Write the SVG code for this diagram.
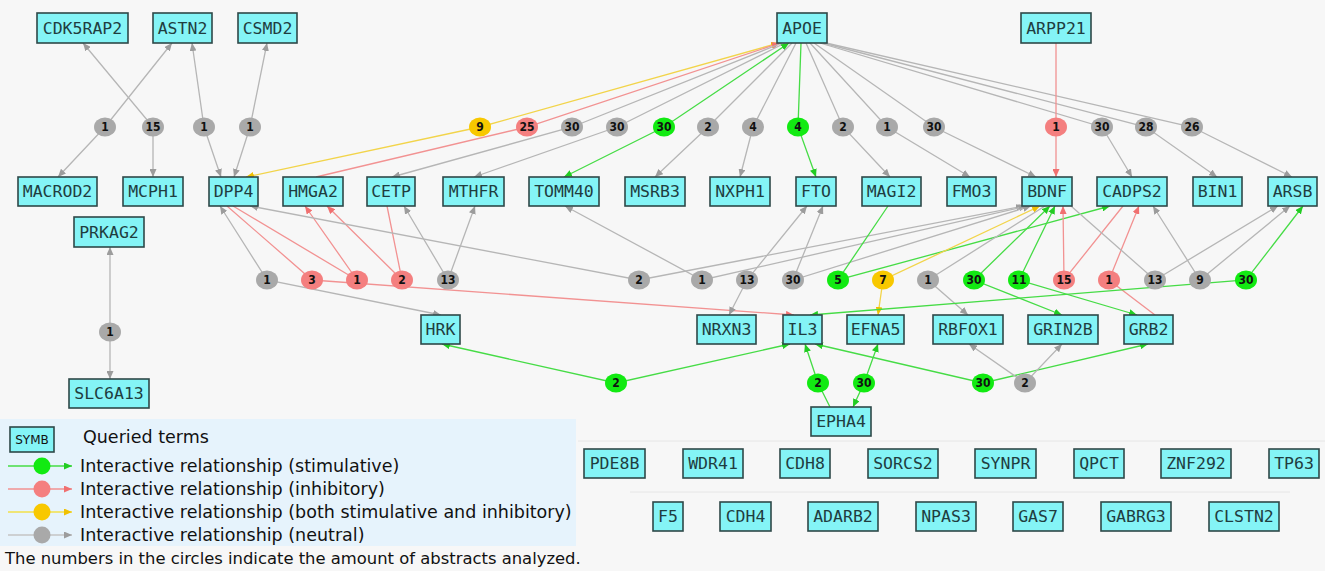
<svg xmlns="http://www.w3.org/2000/svg" width="1325" height="571" viewBox="0 0 1325 571">
<style>
.bg{fill:#f7f7f7}
.n rect{fill:#84f4f6;stroke:#2e4848;stroke-width:1.6}
.n text{font-family:"DejaVu Sans Mono",monospace;font-size:16.5px;fill:#1f3d3f;text-anchor:middle}
.e path{fill:none;stroke-width:1.3}
.g{stroke:#b6b6b6}.G{stroke:#46dc46}.r{stroke:#f29292}.y{stroke:#f2d44a}
.lb ellipse{stroke:none}
.cg{fill:#a9a9a9}.cG{fill:#12ea12}.cr{fill:#f47f7f}.cy{fill:#f8c800}
.lb text{font-family:"DejaVu Sans Condensed","DejaVu Sans",sans-serif;font-weight:bold;font-size:12px;fill:#111;text-anchor:middle}
.lg text{font-family:"DejaVu Sans",Verdana,sans-serif;font-size:17.5px;fill:#111}
</style>
<defs>
<marker id="ag" viewBox="0 0 8 7" refX="8" refY="3.5" markerWidth="8" markerHeight="7" markerUnits="userSpaceOnUse" orient="auto-start-reverse"><path d="M0,0L8,3.5L0,7z" fill="#9c9c9c"/></marker>
<marker id="aG" viewBox="0 0 8 7" refX="8" refY="3.5" markerWidth="8" markerHeight="7" markerUnits="userSpaceOnUse" orient="auto-start-reverse"><path d="M0,0L8,3.5L0,7z" fill="#22cc22"/></marker>
<marker id="ar" viewBox="0 0 8 7" refX="8" refY="3.5" markerWidth="8" markerHeight="7" markerUnits="userSpaceOnUse" orient="auto-start-reverse"><path d="M0,0L8,3.5L0,7z" fill="#f07070"/></marker>
<marker id="ay" viewBox="0 0 8 7" refX="8" refY="3.5" markerWidth="8" markerHeight="7" markerUnits="userSpaceOnUse" orient="auto-start-reverse"><path d="M0,0L8,3.5L0,7z" fill="#f0c000"/></marker>
</defs>
<rect class="bg" x="0" y="0" width="1325" height="571"/>
<rect x="0" y="419" width="576" height="127" fill="#e6f3fc"/>
<line x1="578" y1="441" x2="1325" y2="441" stroke="#e6e6e6" stroke-width="1"/>
<line x1="630" y1="492" x2="1290" y2="492" stroke="#e6e6e6" stroke-width="1"/>

<g id="connectors" class="e">
<path class="g" d="M172,43L105,127L58,177" marker-start="url(#ag)" marker-end="url(#ag)"/>
<path class="g" d="M83,43L153,127L153,177" marker-start="url(#ag)" marker-end="url(#ag)"/>
<path class="g" d="M192,43L204,127L221,177" marker-start="url(#ag)" marker-end="url(#ag)"/>
<path class="g" d="M267,43L250,127L234,177" marker-start="url(#ag)" marker-end="url(#ag)"/>
<path class="y" d="M779,43L480,127L246,177" marker-start="url(#ay)" marker-end="url(#ay)"/>
<path class="r" d="M780,43L527,127L316,177" marker-start="url(#ar)"/>
<path class="g" d="M782,43L572,127L392,177" marker-end="url(#ag)"/>
<path class="g" d="M785,43L617,127L474,177" marker-end="url(#ag)"/>
<path class="G" d="M789,43L664,127L564,177" marker-start="url(#aG)" marker-end="url(#aG)"/>
<path class="g" d="M792,43L708,127L655,177" marker-end="url(#ag)"/>
<path class="g" d="M796,43L753,127L740,177" marker-end="url(#ag)"/>
<path class="G" d="M801,43L798,127L816,177" marker-end="url(#aG)"/>
<path class="g" d="M806,43L843,127L890,177" marker-end="url(#ag)"/>
<path class="g" d="M810,43L887,127L970,177" marker-end="url(#ag)"/>
<path class="g" d="M814,43L934,127L1036,177" marker-end="url(#ag)"/>
<path class="g" d="M820,43L1102,127L1132,177" marker-end="url(#ag)"/>
<path class="g" d="M823,43L1146,127L1217,177" marker-end="url(#ag)"/>
<path class="g" d="M826,43L1192,127L1292,177" marker-end="url(#ag)"/>
<path class="r" d="M1056,43L1056,127L1056,177" marker-end="url(#ar)"/>

<path class="g" d="M220,206L267,280L441,315" marker-start="url(#ag)" marker-end="url(#ag)"/>
<path class="r" d="M227,206L312,280L794,315" marker-end="url(#ar)"/>
<path class="r" d="M233,206L357,280L305,206" marker-end="url(#ar)"/>
<path class="r" d="M387,206L402,280L327,206" marker-end="url(#ar)"/>
<path class="g" d="M404,206L448,280L475,206" marker-start="url(#ag)" marker-end="url(#ag)"/>
<path class="g" d="M1024,206L639,280L250,206" marker-start="url(#ag)" marker-end="url(#ag)"/>
<path class="g" d="M1027,206L702,280L565,206" marker-start="url(#ag)" marker-end="url(#ag)"/>
<path class="g" d="M807,206L747,280L729,315" marker-start="url(#ag)" marker-end="url(#ag)"/>
<path class="g" d="M1031,206L793,280L823,206" marker-start="url(#ag)" marker-end="url(#ag)"/>
<path class="G" d="M888,206L838,280L1110,206" marker-end="url(#aG)"/>
<path class="y" d="M1040,206L883,280L878,315" marker-start="url(#ay)" marker-end="url(#ay)"/>
<path class="g" d="M1045,206L928,280L968,315" marker-end="url(#ag)"/>
<path class="G" d="M1050,206L974,280L1062,315" marker-start="url(#aG)" marker-end="url(#aG)"/>
<path class="G" d="M1055,206L1019,280L1137,315" marker-start="url(#aG)" marker-end="url(#aG)"/>
<path class="r" d="M1123,206L1064,280L1063,206" marker-end="url(#ar)"/>
<path class="r" d="M1155,315L1109,280L1139,206" marker-end="url(#ar)"/>
<path class="g" d="M1071,206L1155,280L1278,206" marker-end="url(#ag)"/>
<path class="g" d="M1153,206L1200,280L1290,206" marker-start="url(#ag)" marker-end="url(#ag)"/>
<path class="G" d="M810,315L1246,280L1303,206" marker-start="url(#aG)" marker-end="url(#aG)"/>

<path class="g" d="M110,247L110,332L110,379" marker-start="url(#ag)" marker-end="url(#ag)"/>

<path class="G" d="M442,344L616,383L790,344" marker-start="url(#aG)" marker-end="url(#aG)"/>
<path class="G" d="M830,407L818,383L805,344" marker-end="url(#aG)"/>
<path class="G" d="M878,344L864,383L853,407" marker-start="url(#aG)" marker-end="url(#aG)"/>
<path class="G" d="M815,344L983,383L1148,344" marker-start="url(#aG)" marker-end="url(#aG)"/>
<path class="g" d="M969,344L1025,383L1062,344" marker-start="url(#ag)" marker-end="url(#ag)"/>

<g class="lb">
<ellipse class="cg" cx="105" cy="127" rx="11" ry="9.5"/><text x="105" y="131">1</text>
<ellipse class="cg" cx="153" cy="127" rx="11" ry="9.5"/><text x="153" y="131">15</text>
<ellipse class="cg" cx="204" cy="127" rx="11" ry="9.5"/><text x="204" y="131">1</text>
<ellipse class="cg" cx="250" cy="127" rx="11" ry="9.5"/><text x="250" y="131">1</text>
<ellipse class="cy" cx="480" cy="127" rx="11" ry="9.5"/><text x="480" y="131">9</text>
<ellipse class="cr" cx="527" cy="127" rx="11" ry="9.5"/><text x="527" y="131">25</text>
<ellipse class="cg" cx="572" cy="127" rx="11" ry="9.5"/><text x="572" y="131">30</text>
<ellipse class="cg" cx="617" cy="127" rx="11" ry="9.5"/><text x="617" y="131">30</text>
<ellipse class="cG" cx="664" cy="127" rx="11" ry="9.5"/><text x="664" y="131">30</text>
<ellipse class="cg" cx="708" cy="127" rx="11" ry="9.5"/><text x="708" y="131">2</text>
<ellipse class="cg" cx="753" cy="127" rx="11" ry="9.5"/><text x="753" y="131">4</text>
<ellipse class="cG" cx="798" cy="127" rx="11" ry="9.5"/><text x="798" y="131">4</text>
<ellipse class="cg" cx="843" cy="127" rx="11" ry="9.5"/><text x="843" y="131">2</text>
<ellipse class="cg" cx="887" cy="127" rx="11" ry="9.5"/><text x="887" y="131">1</text>
<ellipse class="cg" cx="934" cy="127" rx="11" ry="9.5"/><text x="934" y="131">30</text>
<ellipse class="cr" cx="1056" cy="127" rx="11" ry="9.5"/><text x="1056" y="131">1</text>
<ellipse class="cg" cx="1102" cy="127" rx="11" ry="9.5"/><text x="1102" y="131">30</text>
<ellipse class="cg" cx="1146" cy="127" rx="11" ry="9.5"/><text x="1146" y="131">28</text>
<ellipse class="cg" cx="1192" cy="127" rx="11" ry="9.5"/><text x="1192" y="131">26</text>

<ellipse class="cg" cx="267" cy="280" rx="11" ry="9.5"/><text x="267" y="284">1</text>
<ellipse class="cr" cx="312" cy="280" rx="11" ry="9.5"/><text x="312" y="284">3</text>
<ellipse class="cr" cx="357" cy="280" rx="11" ry="9.5"/><text x="357" y="284">1</text>
<ellipse class="cr" cx="402" cy="280" rx="11" ry="9.5"/><text x="402" y="284">2</text>
<ellipse class="cg" cx="448" cy="280" rx="11" ry="9.5"/><text x="448" y="284">13</text>
<ellipse class="cg" cx="639" cy="280" rx="11" ry="9.5"/><text x="639" y="284">2</text>
<ellipse class="cg" cx="702" cy="280" rx="11" ry="9.5"/><text x="702" y="284">1</text>
<ellipse class="cg" cx="747" cy="280" rx="11" ry="9.5"/><text x="747" y="284">13</text>
<ellipse class="cg" cx="793" cy="280" rx="11" ry="9.5"/><text x="793" y="284">30</text>
<ellipse class="cG" cx="838" cy="280" rx="11" ry="9.5"/><text x="838" y="284">5</text>
<ellipse class="cy" cx="883" cy="280" rx="11" ry="9.5"/><text x="883" y="284">7</text>
<ellipse class="cg" cx="928" cy="280" rx="11" ry="9.5"/><text x="928" y="284">1</text>
<ellipse class="cG" cx="974" cy="280" rx="11" ry="9.5"/><text x="974" y="284">30</text>
<ellipse class="cG" cx="1019" cy="280" rx="11" ry="9.5"/><text x="1019" y="284">11</text>
<ellipse class="cr" cx="1064" cy="280" rx="11" ry="9.5"/><text x="1064" y="284">15</text>
<ellipse class="cr" cx="1109" cy="280" rx="11" ry="9.5"/><text x="1109" y="284">1</text>
<ellipse class="cg" cx="1155" cy="280" rx="11" ry="9.5"/><text x="1155" y="284">13</text>
<ellipse class="cg" cx="1200" cy="280" rx="11" ry="9.5"/><text x="1200" y="284">9</text>
<ellipse class="cG" cx="1246" cy="280" rx="11" ry="9.5"/><text x="1246" y="284">30</text>

<ellipse class="cg" cx="110" cy="332" rx="11" ry="9.5"/><text x="110" y="336">1</text>

<ellipse class="cG" cx="616" cy="383" rx="11" ry="9.5"/><text x="616" y="387">2</text>
<ellipse class="cG" cx="818" cy="383" rx="11" ry="9.5"/><text x="818" y="387">2</text>
<ellipse class="cG" cx="864" cy="383" rx="11" ry="9.5"/><text x="864" y="387">30</text>
<ellipse class="cG" cx="983" cy="383" rx="11" ry="9.5"/><text x="983" y="387">30</text>
<ellipse class="cg" cx="1025" cy="383" rx="11" ry="9.5"/><text x="1025" y="387">2</text>
</g>
</g>

<g id="n-CDK5RAP2" class="n"><rect x="37" y="13" width="91" height="30"/><text x="82.5" y="34">CDK5RAP2</text></g>
<g id="n-ASTN2" class="n"><rect x="153" y="13" width="59" height="30"/><text x="182.5" y="34">ASTN2</text></g>
<g id="n-CSMD2" class="n"><rect x="238" y="13" width="59" height="30"/><text x="267.5" y="34">CSMD2</text></g>
<g id="n-APOE" class="n"><rect x="777" y="13" width="50" height="30"/><text x="802" y="34">APOE</text></g>
<g id="n-ARPP21" class="n"><rect x="1021" y="13" width="70" height="30"/><text x="1056" y="34">ARPP21</text></g>

<g id="n-MACROD2" class="n"><rect x="18" y="177" width="79" height="29"/><text x="57.5" y="197">MACROD2</text></g>
<g id="n-MCPH1" class="n"><rect x="123" y="177" width="60" height="29"/><text x="153" y="197">MCPH1</text></g>
<g id="n-DPP4" class="n"><rect x="209" y="177" width="49" height="29"/><text x="233.5" y="197">DPP4</text></g>
<g id="n-HMGA2" class="n"><rect x="283" y="177" width="60" height="29"/><text x="313" y="197">HMGA2</text></g>
<g id="n-CETP" class="n"><rect x="367" y="177" width="48" height="29"/><text x="391" y="197">CETP</text></g>
<g id="n-MTHFR" class="n"><rect x="443" y="177" width="61" height="29"/><text x="473.5" y="197">MTHFR</text></g>
<g id="n-TOMM40" class="n"><rect x="529" y="177" width="70" height="29"/><text x="564" y="197">TOMM40</text></g>
<g id="n-MSRB3" class="n"><rect x="625" y="177" width="60" height="29"/><text x="655" y="197">MSRB3</text></g>
<g id="n-NXPH1" class="n"><rect x="710" y="177" width="60" height="29"/><text x="740" y="197">NXPH1</text></g>
<g id="n-FTO" class="n"><rect x="796" y="177" width="40" height="29"/><text x="816" y="197">FTO</text></g>
<g id="n-MAGI2" class="n"><rect x="862" y="177" width="59" height="29"/><text x="891.5" y="197">MAGI2</text></g>
<g id="n-FMO3" class="n"><rect x="947" y="177" width="49" height="29"/><text x="971.5" y="197">FMO3</text></g>
<g id="n-BDNF" class="n"><rect x="1022" y="177" width="50" height="29"/><text x="1047" y="197">BDNF</text></g>
<g id="n-CADPS2" class="n"><rect x="1097" y="177" width="70" height="29"/><text x="1132" y="197">CADPS2</text></g>
<g id="n-BIN1" class="n"><rect x="1193" y="177" width="49" height="29"/><text x="1217.5" y="197">BIN1</text></g>
<g id="n-ARSB" class="n"><rect x="1268" y="177" width="49" height="29"/><text x="1292.5" y="197">ARSB</text></g>

<g id="n-PRKAG2" class="n"><rect x="74" y="217" width="70" height="30"/><text x="109" y="238">PRKAG2</text></g>

<g id="n-HRK" class="n"><rect x="421" y="315" width="39" height="29"/><text x="440.5" y="335">HRK</text></g>
<g id="n-NRXN3" class="n"><rect x="697" y="315" width="59" height="29"/><text x="726.5" y="335">NRXN3</text></g>
<g id="n-IL3" class="n"><rect x="783" y="315" width="39" height="29"/><text x="802.5" y="335">IL3</text></g>
<g id="n-EFNA5" class="n"><rect x="847" y="315" width="57" height="29"/><text x="875.5" y="335">EFNA5</text></g>
<g id="n-RBFOX1" class="n"><rect x="933" y="315" width="70" height="29"/><text x="968" y="335">RBFOX1</text></g>
<g id="n-GRIN2B" class="n"><rect x="1028" y="315" width="70" height="29"/><text x="1063" y="335">GRIN2B</text></g>
<g id="n-GRB2" class="n"><rect x="1124" y="315" width="49" height="29"/><text x="1148.5" y="335">GRB2</text></g>

<g id="n-SLC6A13" class="n"><rect x="69" y="379" width="80" height="29"/><text x="109" y="399">SLC6A13</text></g>
<g id="n-EPHA4" class="n"><rect x="811" y="407" width="60" height="29"/><text x="841" y="427">EPHA4</text></g>

<g id="n-PDE8B" class="n"><rect x="584" y="449" width="61" height="29"/><text x="614.5" y="469">PDE8B</text></g>
<g id="n-WDR41" class="n"><rect x="683" y="449" width="60" height="29"/><text x="713" y="469">WDR41</text></g>
<g id="n-CDH8" class="n"><rect x="780" y="449" width="50" height="29"/><text x="805" y="469">CDH8</text></g>
<g id="n-SORCS2" class="n"><rect x="868" y="449" width="70" height="29"/><text x="903" y="469">SORCS2</text></g>
<g id="n-SYNPR" class="n"><rect x="975" y="449" width="61" height="29"/><text x="1005.5" y="469">SYNPR</text></g>
<g id="n-QPCT" class="n"><rect x="1074" y="449" width="50" height="29"/><text x="1099" y="469">QPCT</text></g>
<g id="n-ZNF292" class="n"><rect x="1161" y="449" width="70" height="29"/><text x="1196" y="469">ZNF292</text></g>
<g id="n-TP63" class="n"><rect x="1269" y="449" width="50" height="29"/><text x="1294" y="469">TP63</text></g>

<g id="n-F5" class="n"><rect x="653" y="502" width="30" height="29"/><text x="668" y="522">F5</text></g>
<g id="n-CDH4" class="n"><rect x="720" y="502" width="51" height="29"/><text x="745.5" y="522">CDH4</text></g>
<g id="n-ADARB2" class="n"><rect x="808" y="502" width="70" height="29"/><text x="843" y="522">ADARB2</text></g>
<g id="n-NPAS3" class="n"><rect x="916" y="502" width="60" height="29"/><text x="946" y="522">NPAS3</text></g>
<g id="n-GAS7" class="n"><rect x="1013" y="502" width="50" height="29"/><text x="1038" y="522">GAS7</text></g>
<g id="n-GABRG3" class="n"><rect x="1101" y="502" width="70" height="29"/><text x="1136" y="522">GABRG3</text></g>
<g id="n-CLSTN2" class="n"><rect x="1209" y="502" width="70" height="29"/><text x="1244" y="522">CLSTN2</text></g>

<g id="legend" class="lg">
<g class="n"><rect x="10" y="427" width="44" height="25"/><text x="32" y="444" style="font-size:12px">SYMB</text></g>
<text x="83" y="443">Queried terms</text>
<line x1="8" y1="466" x2="72" y2="466" stroke="#46dc46" stroke-width="1.5" marker-end="url(#aG)"/>
<circle cx="42" cy="466" r="8.5" fill="#12ea12"/>
<text x="80" y="472">Interactive relationship (stimulative)</text>
<line x1="8" y1="489" x2="72" y2="489" stroke="#f29292" stroke-width="1.5" marker-end="url(#ar)"/>
<circle cx="42" cy="489" r="8.5" fill="#f47f7f"/>
<text x="80" y="495">Interactive relationship (inhibitory)</text>
<line x1="8" y1="512" x2="72" y2="512" stroke="#f2e04a" stroke-width="1.5" marker-end="url(#ay)"/>
<circle cx="42" cy="512" r="8.5" fill="#f8c800"/>
<text x="80" y="518">Interactive relationship (both stimulative and inhibitory)</text>
<line x1="8" y1="535" x2="72" y2="535" stroke="#c4c4c4" stroke-width="1.5" marker-end="url(#ag)"/>
<circle cx="42" cy="535" r="8.5" fill="#a9a9a9"/>
<text x="80" y="541">Interactive relationship (neutral)</text>
<text x="5" y="564" style="font-size:16.4px">The numbers in the circles indicate the amount of abstracts analyzed.</text>
</g>
</svg>
